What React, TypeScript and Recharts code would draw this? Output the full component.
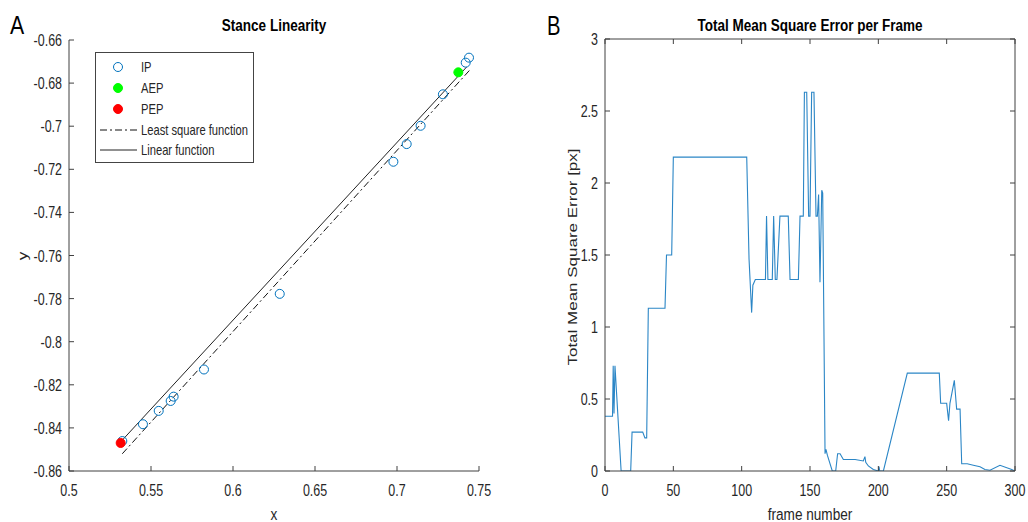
import React from "react";
import { ScatterChart, Scatter, LineChart, Line, XAxis, YAxis } from "recharts";

// panel A: stance points
const ipX = [0.7439, 0.7419, 0.728, 0.7144, 0.7059, 0.6978, 0.6285, 0.5823, 0.5638, 0.562, 0.5547, 0.5451, 0.5325];
const ipY = [-0.6682, -0.6705, -0.6852, -0.6998, -0.7083, -0.7165, -0.7778, -0.8129, -0.8255, -0.8275, -0.8321, -0.8383, -0.8461];
const aepX = [0.7374];
const aepY = [-0.675];
const pepX = [0.5315];
const pepY = [-0.847];
const lsqX = [0.5325, 0.7443];
const lsqY = [-0.852, -0.674];
const linX = [0.5315, 0.7425];
const linY = [-0.8465, -0.6725];
const stanceXTicks = [0.5, 0.55, 0.6, 0.65, 0.7, 0.75];
const stanceYTicks = [-0.86, -0.84, -0.82, -0.8, -0.78, -0.76, -0.74, -0.72, -0.7, -0.68, -0.66];

// panel B: error per frame
const frames = [
  0, 5.5, 6, 6.6, 7.3, 11.8, 18.8, 19.8, 27.6, 29.2, 30.5, 31.7, 43.9, 45, 48.8, 50,
  103.7, 105.4, 107.3, 108.2, 110, 117.4, 118.2, 119.2, 122.4, 123.4, 124.6, 125.8, 128,
  134.1, 135.4, 141.5, 142.7, 145.1, 145.9, 147.6, 149, 150, 151.2, 152.9, 154.4, 155.4,
  156.3, 157.3, 158.6, 159.3, 161, 161.7, 162.7, 166.3, 168.8, 170.2, 172, 174.4, 183,
  189, 190.2, 190.8, 192.7, 196.3, 200, 200.5, 201, 203.7, 221.2, 244.6, 245.6, 250,
  251.4, 252.4, 255.6, 257.3, 259.8, 261, 265, 269.5, 274.4, 278, 281.7, 289, 297.6, 300,
];
const mse = [
  0.38, 0.38, 0.73, 0.4, 0.73, 0, 0, 0.27, 0.27, 0.23, 0.23, 1.13, 1.13, 1.5, 1.5, 2.18,
  2.18, 1.47, 1.1, 1.29, 1.33, 1.33, 1.77, 1.33, 1.33, 1.77, 1.33, 1.33, 1.77,
  1.77, 1.33, 1.33, 1.77, 1.77, 2.63, 2.63, 1.77, 1.77, 2.63, 2.63, 1.77, 1.77,
  1.92, 1.31, 1.95, 1.93, 0.12, 0.15, 0.11, 0, 0, 0.12, 0.12, 0.08, 0.08,
  0.07, 0.1, 0.06, 0.035, 0.01, 0, 0.03, 0, 0, 0.68, 0.68, 0.47, 0.47,
  0.35, 0.47, 0.63, 0.43, 0.43, 0.05, 0.05, 0.04, 0.03, 0.01, 0.005, 0.04, 0.01, 0,
];
const frameTicks = [0, 50, 100, 150, 200, 250, 300];
const mseTicks = [0, 0.5, 1, 1.5, 2, 2.5, 3];

const AX = "#404040";
const TXT = "#262626";
const BLUE = "#0072BD";
const FONT = "'Liberation Sans', Arial, sans-serif";

const ipPts = ipX.map((x, i) => ({ x, y: ipY[i] }));
const aepPts = aepX.map((x, i) => ({ x, y: aepY[i] }));
const pepPts = pepX.map((x, i) => ({ x, y: pepY[i] }));
const lsqPts = lsqX.map((x, i) => ({ x, y: lsqY[i] }));
const linPts = linX.map((x, i) => ({ x, y: linY[i] }));
const mseRows = frames.map((f, i) => ({ frame: f, mse: mse[i] }));

// the picture is squeezed sideways, so every text gets scaleX
function T({ x, y, size, anchor = "middle", bold = false, rotate = 0, sx = 0.8, fill = TXT, children }: any) {
  return (
    <text
      transform={`translate(${x},${y}) scale(${sx},1) rotate(${rotate})`}
      fontSize={size}
      fontWeight={bold ? 700 : 400}
      textAnchor={anchor}
      fontFamily={FONT}
      fill={fill}
    >
      {children}
    </text>
  );
}

function LeftTick({ x, y, payload }: any) {
  return (
    <g>
      <line x1={x} x2={x + 5} y1={y} y2={y} stroke={AX} />
      <T x={x - 7} y={y + 6} size={16} sx={0.78} anchor="end">{String(payload.value)}</T>
    </g>
  );
}

function BottomTick({ x, y, payload }: any) {
  return (
    <g>
      <line x1={x} x2={x} y1={y} y2={y - 5} stroke={AX} />
      <T x={x} y={y + 25} size={16} sx={0.78}>{String(payload.value)}</T>
    </g>
  );
}

function TopTick({ x, y }: any) {
  return <line x1={x} x2={x} y1={y} y2={y + 5} stroke={AX} />;
}

function RightTick({ x, y }: any) {
  return <line x1={x} x2={x - 5} y1={y} y2={y} stroke={AX} />;
}

const noDot = () => <g />;

export default function App() {
  return (
    <div style={{ position: "absolute", left: 0, top: 0, width: 1028, height: 522, background: "#fff" }}>
      <div style={{ position: "absolute", left: 0, top: 0 }}>
        <ScatterChart width={514} height={522} margin={{ top: 40, right: 35, bottom: 21, left: 9 }}>
          <XAxis
            type="number"
            dataKey="x"
            domain={[0.5, 0.75]}
            ticks={stanceXTicks}
            interval={0}
            height={30}
            tickSize={0}
            tickMargin={0}
            tickLine={false}
            tick={(p: any) => <BottomTick {...p} />}
            axisLine={{ stroke: AX }}
            allowDataOverflow
          />
          <YAxis
            type="number"
            dataKey="y"
            domain={[-0.86, -0.66]}
            ticks={stanceYTicks}
            interval={0}
            width={60}
            tickSize={0}
            tickMargin={0}
            tickLine={false}
            tick={(p: any) => <LeftTick {...p} />}
            axisLine={{ stroke: AX }}
            allowDataOverflow
          />
          <Scatter
            name="Least square function"
            data={lsqPts}
            line={{ stroke: "#111", strokeWidth: 1, strokeDasharray: "7 3 2 3" }}
            shape={noDot}
            isAnimationActive={false}
          />
          <Scatter
            name="Linear function"
            data={linPts}
            line={{ stroke: "#222", strokeWidth: 1 }}
            shape={noDot}
            isAnimationActive={false}
          />
          <Scatter
            name="IP"
            data={ipPts}
            shape={(p: any) => <circle cx={p.cx} cy={p.cy} r={4.5} fill="none" stroke={BLUE} strokeWidth={1} />}
            isAnimationActive={false}
          />
          <Scatter
            name="AEP"
            data={aepPts}
            shape={(p: any) => <circle cx={p.cx} cy={p.cy} r={4.5} fill="#00ff00" stroke="#00ff00" />}
            isAnimationActive={false}
          />
          <Scatter
            name="PEP"
            data={pepPts}
            shape={(p: any) => <circle cx={p.cx} cy={p.cy} r={4.5} fill="#ff0000" stroke="#ff0000" />}
            isAnimationActive={false}
          />
        </ScatterChart>
      </div>

      <div style={{ position: "absolute", left: 514, top: 0 }}>
        <LineChart width={514} height={522} data={mseRows} margin={{ top: 29, right: 3, bottom: 21, left: 31 }}>
          <XAxis
            type="number"
            dataKey="frame"
            domain={[0, 300]}
            ticks={frameTicks}
            interval={0}
            height={30}
            tickSize={0}
            tickMargin={0}
            tickLine={false}
            tick={(p: any) => <BottomTick {...p} />}
            axisLine={{ stroke: AX }}
            allowDataOverflow
          />
          <XAxis
            xAxisId="top"
            orientation="top"
            type="number"
            dataKey="frame"
            domain={[0, 300]}
            ticks={frameTicks}
            interval={0}
            height={10}
            tickSize={0}
            tickMargin={0}
            tickLine={false}
            tick={(p: any) => <TopTick {...p} />}
            axisLine={{ stroke: AX }}
            allowDataOverflow
          />
          <YAxis
            type="number"
            domain={[0, 3]}
            ticks={mseTicks}
            interval={0}
            width={60}
            tickSize={0}
            tickMargin={0}
            tickLine={false}
            tick={(p: any) => <LeftTick {...p} />}
            axisLine={{ stroke: AX }}
            allowDataOverflow
          />
          <YAxis
            yAxisId="right"
            orientation="right"
            type="number"
            domain={[0, 3]}
            ticks={mseTicks}
            interval={0}
            width={10}
            tickSize={0}
            tickMargin={0}
            tickLine={false}
            tick={(p: any) => <RightTick {...p} />}
            axisLine={{ stroke: AX }}
            allowDataOverflow
          />
          <Line
            type="linear"
            dataKey="mse"
            stroke="#2b86c6"
            strokeWidth={1.1}
            dot={false}
            activeDot={false}
            isAnimationActive={false}
          />
        </LineChart>
      </div>

      <svg width={1028} height={522} style={{ position: "absolute", left: 0, top: 0, pointerEvents: "none" }}>
        <T x={10} y={34} size={25} anchor="start" sx={0.85} fill="#000">A</T>
        <T x={274} y={31} size={16.5} bold sx={0.82} fill="#000">Stance Linearity</T>
        <T x={27} y={256} size={17} rotate={-90}>y</T>
        <T x={274} y={520} size={17}>x</T>

        <T x={547} y={35} size={27} anchor="start" sx={0.75} fill="#000">B</T>
        <T x={810} y={31} size={16.5} bold sx={0.82} fill="#000">Total Mean Square Error per Frame</T>
        <T x={577} y={257} size={17} rotate={-90}>Total Mean Square Error [px]</T>
        <T x={810} y={520} size={17}>frame number</T>

        <rect x={95.5} y={52.5} width={158} height={110} fill="#fff" stroke="#444" strokeWidth={1} />
        <circle cx={118} cy={67} r={4.5} fill="none" stroke={BLUE} />
        <circle cx={118} cy={88} r={4.5} fill="#00ff00" stroke="#00ff00" />
        <circle cx={118} cy={109} r={4.5} fill="#ff0000" stroke="#ff0000" />
        <line x1={100} x2={137} y1={130} y2={130} stroke="#111" strokeDasharray="7 3 2 3" />
        <line x1={100} x2={137} y1={150} y2={150} stroke="#222" />
        <T x={141} y={72} size={14} anchor="start">IP</T>
        <T x={141} y={93} size={14} anchor="start">AEP</T>
        <T x={141} y={114} size={14} anchor="start">PEP</T>
        <T x={141} y={135} size={14} anchor="start">Least square function</T>
        <T x={141} y={155} size={14} anchor="start">Linear function</T>
      </svg>
    </div>
  );
}
